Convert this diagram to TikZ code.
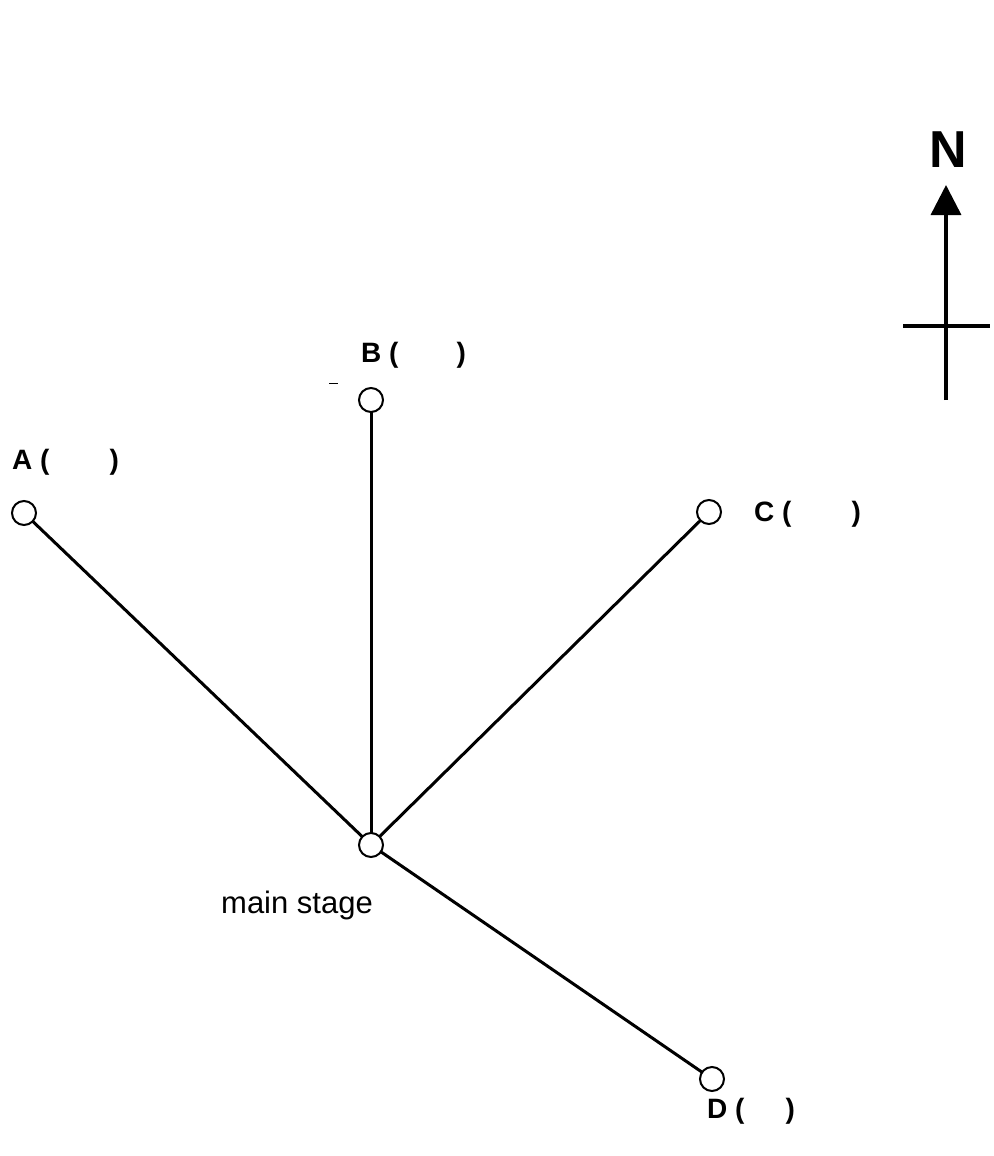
\documentclass[tikz,border=0pt]{standalone}
\usepackage{fontspec}
\setmainfont{Liberation Sans}
\usetikzlibrary{arrows.meta,positioning}

\begin{document}
\begin{tikzpicture}[x=1pt,y=-1pt,
  site/.style={circle,draw,line width=2pt,minimum size=24pt,inner sep=0pt,fill=white},
  lbl/.style={font=\bfseries\fontsize{28}{28}\selectfont,anchor=west,inner sep=0pt},
  road/.style={line width=3pt}]
\useasboundingbox (0,0) rectangle (993,1156);
% roads first, sites drawn on top
\coordinate (pm) at (371,845);
\coordinate (pa) at (24,513);
\coordinate (pb) at (371,400);
\coordinate (pc) at (709,512);
\coordinate (pd) at (712,1079);
\draw[road] (pm) -- (pa);
\draw[road] (pm) -- (pb);
\draw[road] (pm) -- (pc);
\draw[road] (pm) -- (pd);
\node[site] (main) at (pm) {};
\node[site] (A) at (pa) {};
\node[site] (B) at (pb) {};
\node[site] (C) at (pc) {};
\node[site] (D) at (pd) {};
\node[lbl] (la) at (12,462) {A (\hspace{60pt})};
\node[lbl] (lb) at (361,355) {B (\hspace{58pt})};
\node[lbl] (lc) at (754,514) {C (\hspace{60pt})};
\node[lbl] (ld) at (707,1111) {D (\hspace{41pt})};
\node[font=\fontsize{31}{31}\selectfont,inner sep=0pt] (lmain) at (297,905) {main stage};
\draw[line width=1pt] (329,383) -- (338,383);
% north arrow
\coordinate (nbot) at (946,400);
\coordinate (ntop) at (946,185);
\coordinate (wl) at (903,326);
\coordinate (wr) at (990,326);
\draw[line width=3.5pt,-{Triangle[width=30pt,length=30pt]}] (nbot) -- (ntop);
\draw[line width=3.5pt] (wl) -- (wr);
\node[font=\bfseries\fontsize{52}{52}\selectfont,inner sep=0pt] (nlbl) at (948,150) {N};
\end{tikzpicture}
\end{document}
